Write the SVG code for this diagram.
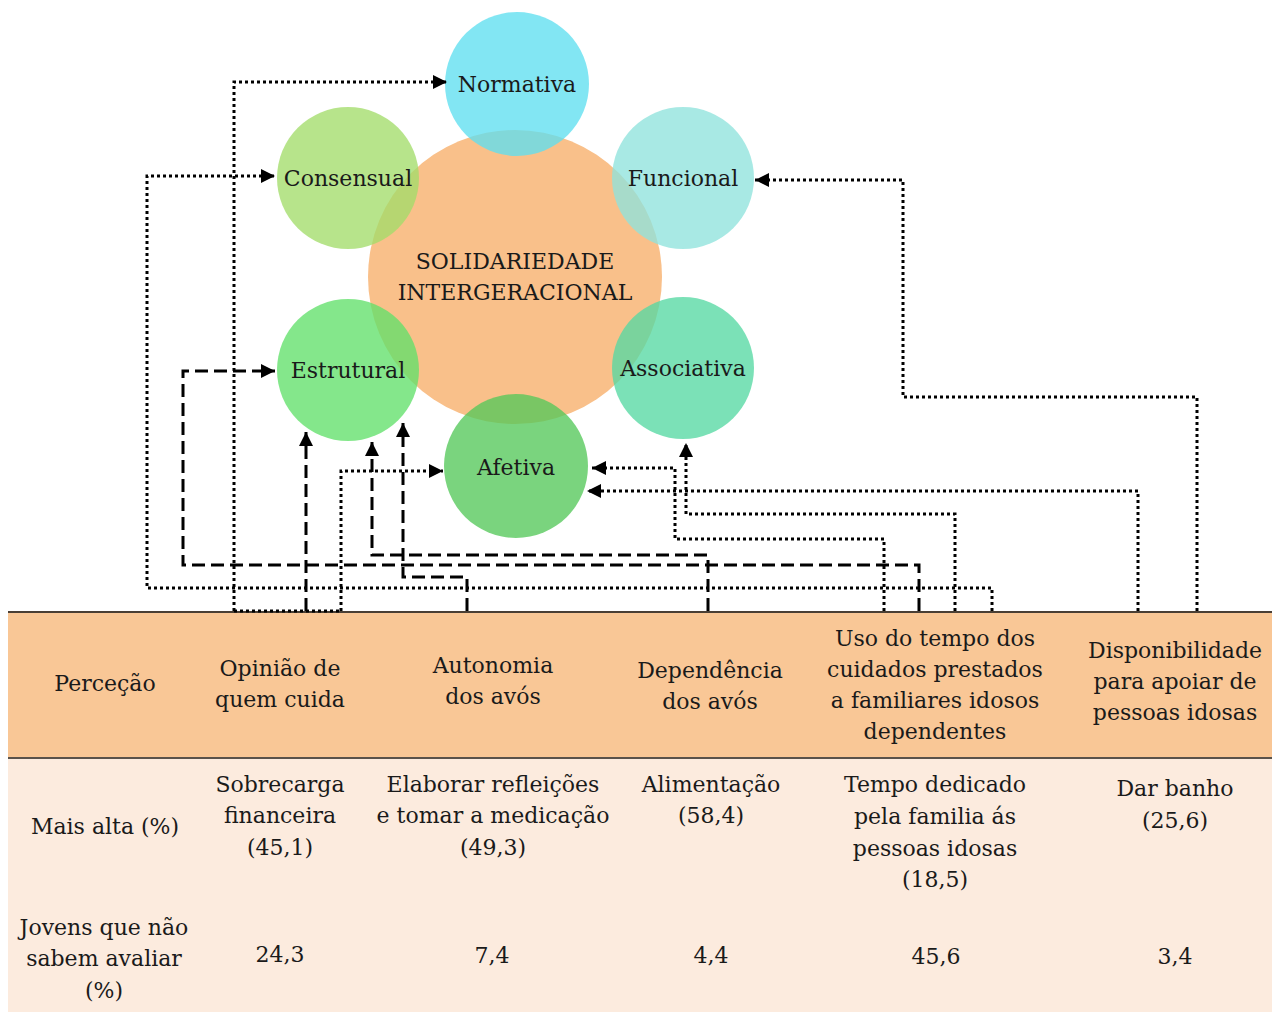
<svg xmlns="http://www.w3.org/2000/svg" width="1272" height="1012" viewBox="0 0 1272 1012">
<style>
.t{font-family:"DejaVu Serif","Liberation Serif",serif;font-size:22px;fill:#1a1a1a;text-anchor:middle}
.c{opacity:0.78}
.dot{fill:none;stroke:#000;stroke-width:3;stroke-dasharray:3 3}
.dash{fill:none;stroke:#000;stroke-width:3;stroke-dasharray:13 6}
</style>
<defs>
<marker id="ah" viewBox="0 0 10 10" refX="10" refY="5" markerWidth="14" markerHeight="14" markerUnits="userSpaceOnUse" orient="auto">
<path d="M0,0 L10,5 L0,10 Z" fill="#000"/>
</marker>
</defs>
<rect width="1272" height="1012" fill="#fff"/>
<g id="table">
<rect x="8" y="612" width="1264" height="146" fill="#f9c796"/>
<rect x="8" y="758" width="1264" height="254" fill="#fcebde"/>
<line x1="8" y1="612" x2="1272" y2="612" stroke="#4a3f35" stroke-width="2"/>
<line x1="8" y1="758" x2="1272" y2="758" stroke="#5a524a" stroke-width="2"/>
<text class="t" x="105" y="691">Perceção</text>
<text class="t" x="280" y="676">Opinião de</text>
<text class="t" x="280" y="707">quem cuida</text>
<text class="t" x="493" y="673">Autonomia</text>
<text class="t" x="493" y="704">dos avós</text>
<text class="t" x="710" y="678">Dependência</text>
<text class="t" x="710" y="709">dos avós</text>
<text class="t" x="935" y="646">Uso do tempo dos</text>
<text class="t" x="935" y="677">cuidados prestados</text>
<text class="t" x="935" y="708">a familiares idosos</text>
<text class="t" x="935" y="739">dependentes</text>
<text class="t" x="1175" y="658">Disponibilidade</text>
<text class="t" x="1175" y="689">para apoiar de</text>
<text class="t" x="1175" y="720">pessoas idosas</text>
<text class="t" x="105" y="834">Mais alta (%)</text>
<text class="t" x="280" y="792">Sobrecarga</text>
<text class="t" x="280" y="823">financeira</text>
<text class="t" x="280" y="855">(45,1)</text>
<text class="t" x="493" y="792">Elaborar refleições</text>
<text class="t" x="493" y="823">e tomar a medicação</text>
<text class="t" x="493" y="855">(49,3)</text>
<text class="t" x="711" y="792">Alimentação</text>
<text class="t" x="711" y="823">(58,4)</text>
<text class="t" x="935" y="792">Tempo dedicado</text>
<text class="t" x="935" y="824">pela familia ás</text>
<text class="t" x="935" y="856">pessoas idosas</text>
<text class="t" x="935" y="887">(18,5)</text>
<text class="t" x="1175" y="796">Dar banho</text>
<text class="t" x="1175" y="828">(25,6)</text>
<text class="t" x="104" y="935">Jovens que não</text>
<text class="t" x="104" y="966">sabem avaliar</text>
<text class="t" x="104" y="998">(%)</text>
<text class="t" x="280" y="962">24,3</text>
<text class="t" x="492" y="963">7,4</text>
<text class="t" x="711" y="963">4,4</text>
<text class="t" x="936" y="964">45,6</text>
<text class="t" x="1175" y="964">3,4</text>
</g>
<g id="center">
<circle cx="515" cy="277" r="147" fill="#f9c08a"/>
<text class="t" x="515" y="269">SOLIDARIEDADE</text>
<text class="t" x="515" y="300">INTERGERACIONAL</text>
</g>
<g id="normativa">
<circle class="c" cx="517" cy="84" r="72" fill="#5fdff0"/>
<text class="t" x="517" y="92">Normativa</text>
</g>
<g id="consensual">
<circle class="c" cx="348" cy="178" r="71" fill="#a3dc6a"/>
<text class="t" x="348" y="186">Consensual</text>
</g>
<g id="funcional">
<circle class="c" cx="683" cy="178" r="71" fill="#8fe3dc"/>
<text class="t" x="683" y="186">Funcional</text>
</g>
<g id="estrutural">
<circle class="c" cx="348" cy="370" r="71" fill="#62e06a"/>
<text class="t" x="348" y="378">Estrutural</text>
</g>
<g id="associativa">
<circle class="c" cx="683" cy="368" r="71" fill="#56d9a3"/>
<text class="t" x="683" y="376">Associativa</text>
</g>
<g id="afetiva">
<circle class="c" cx="516" cy="466" r="72" fill="#55c85a"/>
<text class="t" x="516" y="475">Afetiva</text>
</g>
<g id="connectors">
<path class="dot" d="M234,611 V82 H447" marker-end="url(#ah)"/>
<path class="dot" d="M234,611 H341"/>
<path class="dot" d="M341,611 V471 H443" marker-end="url(#ah)"/>
<path class="dot" d="M992,611 V588 H147 V176 H275" marker-end="url(#ah)"/>
<path class="dot" d="M1197,611 V397 H903 V180 H755" marker-end="url(#ah)"/>
<path class="dot" d="M1138,611 V491 H587" marker-end="url(#ah)"/>
<path class="dot" d="M884,611 V539 H675 V468 H592" marker-end="url(#ah)"/>
<path class="dot" d="M955,611 V514 H686 V443" marker-end="url(#ah)"/>
<path class="dash" d="M919,611 V565 H183 V371 H275" marker-end="url(#ah)"/>
<path class="dash" d="M306,611 V432" marker-end="url(#ah)"/>
<path class="dash" d="M708,611 V555 H372 V442" marker-end="url(#ah)"/>
<path class="dash" d="M467,611 V577 H403 V423" marker-end="url(#ah)"/>
</g>
</svg>
